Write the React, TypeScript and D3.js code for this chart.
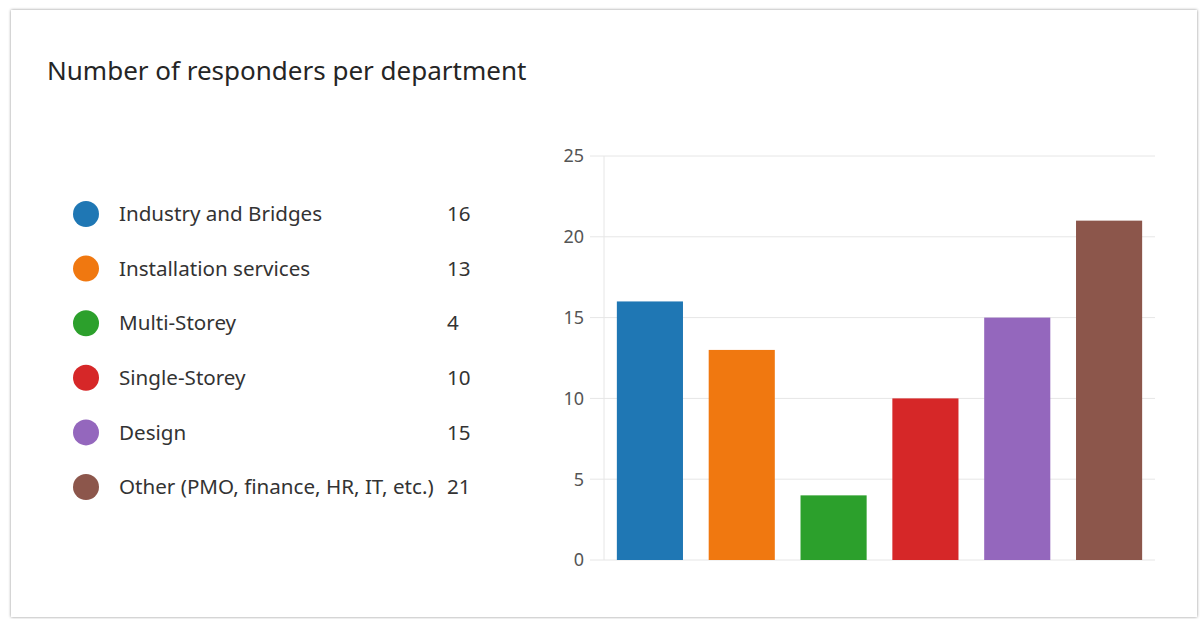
import React from "react";
import * as d3 from "d3";

const categories = [
  "Industry and Bridges",
  "Installation services",
  "Multi-Storey",
  "Single-Storey",
  "Design",
  "Other (PMO, finance, HR, IT, etc.)",
];
const values = [16, 13, 4, 10, 15, 21];
const colors = ["#1f77b4", "#f07810", "#2ca02c", "#d62728", "#9467bd", "#8c564b"];
const yTicks = [0, 5, 10, 15, 20, 25];

const W = 1200;
const H = 619;
const FONT = "'Noto Sans', 'Open Sans', sans-serif";

export default function App() {
  const plotLeft = 604;
  const plotRight = 1155;
  const plotTop = 156;
  const plotBottom = 560;

  const x = d3
    .scaleBand<string>()
    .domain(categories)
    .range([plotLeft, plotRight])
    .paddingInner(0.28)
    .paddingOuter(0.14);
  const y = d3.scaleLinear().domain([0, 25]).range([plotBottom, plotTop]);

  const legendY = d3
    .scalePoint<string>()
    .domain(categories)
    .range([214, 487]);

  return (
    <svg
      width={W}
      height={H}
      style={{ position: "absolute", left: 0, top: 0, background: "#ffffff" }}
    >
      <defs>
        <filter id="shadow" x="-5%" y="-5%" width="110%" height="110%">
          <feDropShadow dx="0" dy="0" stdDeviation="1.8" floodColor="#000" floodOpacity="0.45" />
        </filter>
      </defs>
      <rect x={0} y={0} width={W} height={H} fill="#ffffff" />
      <rect x={11} y={10} width={1186} height={607} fill="#ffffff" filter="url(#shadow)" />

      <text x={47} y={80} fontFamily={FONT} fontSize={26} fill="#252525">
        Number of responders per department
      </text>

      {/* legend */}
      {categories.map((c, i) => (
        <g key={c} transform={`translate(0, ${legendY(c)})`}>
          <circle cx={86} cy={0} r={13} fill={colors[i]} />
          <text x={119} y={0} dy="0.35em" fontFamily={FONT} fontSize={20.6} fill="#333">
            {c}
          </text>
          <text x={447} y={0} dy="0.35em" fontFamily={FONT} fontSize={20.6} fill="#333">
            {values[i]}
          </text>
        </g>
      ))}

      {/* grid */}
      {yTicks.map((t) => (
        <g key={t}>
          <line x1={590} x2={plotRight} y1={y(t)} y2={y(t)} stroke="#e6e6e6" strokeWidth={1} />
          <text
            x={584}
            y={y(t)}
            dy="0.35em"
            textAnchor="end"
            fontFamily={FONT}
            fontSize={18}
            fill="#555"
          >
            {t}
          </text>
        </g>
      ))}
      <line x1={plotLeft} x2={plotLeft} y1={plotTop} y2={plotBottom} stroke="#e6e6e6" strokeWidth={1} />

      {/* bars */}
      {categories.map((c, i) => (
        <rect
          key={c}
          x={x(c)}
          y={y(values[i])}
          width={x.bandwidth()}
          height={y(0) - y(values[i])}
          fill={colors[i]}
        />
      ))}
    </svg>
  );
}
